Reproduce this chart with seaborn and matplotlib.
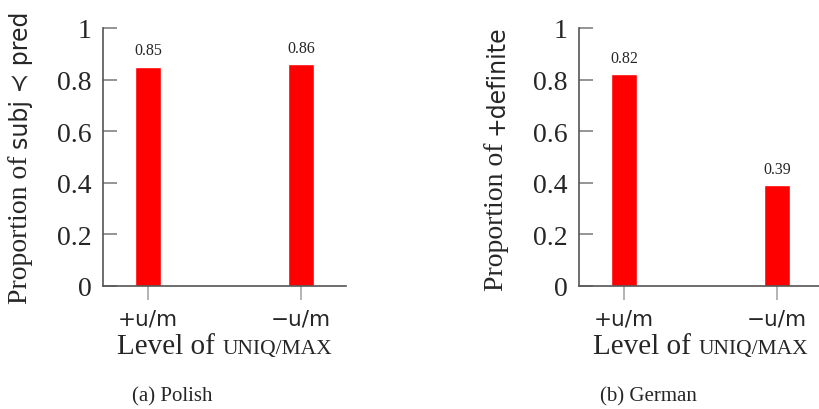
import pandas as pd
import matplotlib
matplotlib.use('Agg')
import matplotlib.pyplot as plt
import seaborn as sns

niveis = ['+u/m', '\u2212u/m']
polones = [0.85, 0.86]
alemao = [0.82, 0.39]
rotulos_y = ['subj \u227a pred', '+definite']
legendas = ['(a) Polish', '(b) German']
yticks = [0, 0.2, 0.4, 0.6, 0.8, 1]

sns.set_theme(style='white')
serif = ['Liberation Serif', 'DejaVu Serif']
sans = ['DejaVu Sans']
plt.rcParams['font.family'] = serif

fig = plt.figure(figsize=(8.19, 4.10), dpi=100)
W, H = 819, 410


def painel(x0, valores, rotulo_y, legenda):
    ax = fig.add_axes([x0 / W, 123 / H, 243 / W, 258 / H])
    dados = pd.DataFrame({'nivel': niveis, 'valor': valores})
    sns.barplot(x='nivel', y='valor', data=dados, color='#ff0000', saturation=1,
                width=0.176, ax=ax, errorbar=None)
    ax.set_xlim(-0.294, 1.294)
    ax.set_ylim(0, 1)
    ax.set_yticks(yticks)
    ax.set_yticklabels(['0', '0.2', '0.4', '0.6', '0.8', '1'], fontsize=20, family=serif)
    ax.set_xticks([0, 1])
    ax.set_xticklabels(niveis, fontsize=15.5, family=sans)
    ax.tick_params(axis='y', direction='in', length=10, color='#888888', pad=8, left=True)
    ax.tick_params(axis='x', direction='out', length=10, color='#aaaaaa', pad=6, bottom=True)
    for lado in ['top', 'right']:
        ax.spines[lado].set_visible(False)
    for lado in ['left', 'bottom']:
        ax.spines[lado].set_color('#555555')
        ax.spines[lado].set_linewidth(1.2)
    ax.set_xlabel('')
    ax.set_ylabel('')
    for c in ax.containers:
        ax.bar_label(c, fmt='%.2f', padding=6, fontsize=11.5, family=serif)

    cx = x0 + 121.5
    # rótulo do eixo y: parte serif + parte sans
    t1 = fig.text(0, 0, 'Proportion of ', rotation=90, fontsize=20, family=serif,
                  ha='left', va='bottom')
    t2 = fig.text(0, 0, rotulo_y, rotation=90, fontsize=17, family=sans,
                  ha='left', va='bottom')
    # rótulo do eixo x: "Level of" + versaletes
    t3 = fig.text(0, 0, 'Level of ', fontsize=21, family=serif, ha='left', va='baseline')
    t4 = fig.text(0, 0, 'UNIQ/MAX', fontsize=15.5, family=serif, ha='left', va='baseline')
    fig.text((cx - 52) / W, 13 / H, legenda, fontsize=15, family=serif,
             ha='center', va='center')
    return ax, t1, t2, t3, t4, cx


partes = [painel(103, polones, rotulos_y[0], legendas[0]),
          painel(579, alemao, rotulos_y[1], legendas[1])]

fig.canvas.draw()
r = fig.canvas.get_renderer()
for ax, t1, t2, t3, t4, cx in partes:
    # y label centrado no eixo
    b1 = t1.get_window_extent(r)
    b2 = t2.get_window_extent(r)
    total = b1.height + b2.height
    ymid = 123 + 129
    x_lab = ax.get_position().x0 * W - 95
    ybot = ymid - total / 2
    t1.set_position((x_lab / W, ybot / H))
    t2.set_position(((x_lab + 1) / W, (ybot + b1.height) / H))
    # x label centrado no eixo
    b3 = t3.get_window_extent(r)
    b4 = t4.get_window_extent(r)
    total = b3.width + b4.width
    xl = cx - total / 2
    t3.set_position((xl / W, 56 / H))
    t4.set_position(((xl + b3.width) / W, 56 / H))

fig.savefig('out.png', dpi=100)
